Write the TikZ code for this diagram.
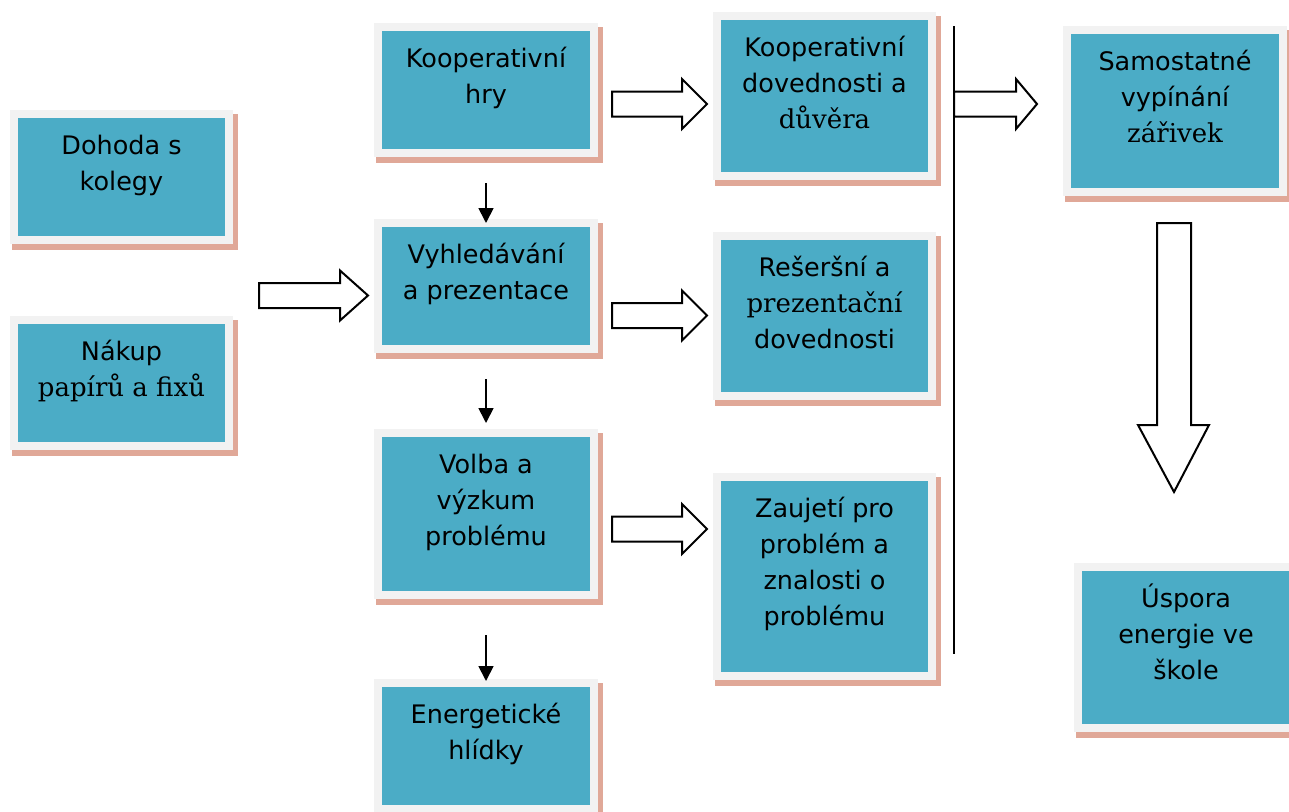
\documentclass[tikz,border=0pt]{standalone}
\usepackage{fontspec}
\setmainfont{DejaVu Sans}
\newfontfamily\serifp{DejaVu Serif}
\usetikzlibrary{arrows.meta,calc}
\definecolor{tealfill}{HTML}{4BACC6}
\definecolor{grayrim}{HTML}{F2F2F2}
\definecolor{shadowc}{HTML}{E0A898}
\tikzset{
 boxst/.style={draw=grayrim, line width=8pt, fill=tealfill, inner sep=0pt, rectangle},
 txtst/.style={inner sep=0pt, anchor=base, font=\fontsize{25.5}{36}\selectfont, text=black},
 blk/.style={line width=1.8pt, -{Triangle[length=15pt,width=15pt]}},
 hollow/.style={draw=black, fill=white, line width=2pt, line join=miter},
 sepline/.style={line width=2pt},
}
\newcommand\pbox[6]{%
 \fill[shadowc] (#2+2,#3+4) rectangle (#4+5,#5+6);
 \node[boxst, minimum width={#4-#2-8}, minimum height={#5-#3-8}] (#1) at ({(#2+#4)/2},{(#3+#5)/2}) {};
 \node[txtst] (#1t) at ({(#2+#4)/2},{#3+44}) {\begin{tabular}[t]{@{}c@{}}#6\end{tabular}};
}
\newcommand\harrow[4]{%
 \draw[hollow] (#1,#4-12.5) -- (#2,#4-12.5) -- (#2,#4-25) -- (#3,#4) -- (#2,#4+25) -- (#2,#4+12.5) -- (#1,#4+12.5) -- cycle;
}
\begin{document}
\begin{tikzpicture}[x=1pt,y=-1pt]
\useasboundingbox (0,0) rectangle (1289,811);
\clip (0,0) rectangle (1289,811);
\fill[white] (0,0) rectangle (1289,811);

\pbox{dohoda}{10}{110}{233}{244}{Dohoda s\\kolegy}
\pbox{nakup}{10}{316}{233}{450}{Nákup\\{\serifp\fontsize{26}{36}\selectfont papírů a fixů}}
\pbox{kh}{374}{23}{598}{157}{Kooperativní\\hry}
\pbox{vy}{374}{219}{598}{353}{Vyhledávání\\a prezentace}
\pbox{vo}{374}{429}{598}{599}{Volba a\\výzkum\\problému}
\pbox{en}{374}{679}{598}{813}{Energetické\\hlídky}
\pbox{kd}{713}{12}{936}{180}{Kooperativní\\dovednosti a\\{\serifp\fontsize{26}{36}\selectfont důvěra}}
\pbox{re}{713}{232}{936}{400}{Rešeršní a\\{\serifp\fontsize{26}{36}\selectfont prezentační}\\dovednosti}
\pbox{za}{713}{473}{936}{680}{Zaujetí pro\\problém a\\znalosti o\\problému}
\pbox{sa}{1063}{26}{1287}{196}{Samostatné\\vypínání\\{\serifp\fontsize{26}{36}\selectfont zářivek}}
\pbox{us}{1074}{563}{1298}{732}{Úspora\\energie ve\\škole}

% thin black arrows
\draw[blk] ([yshift=-26pt]kh.south) -- ([yshift=-4pt]vy.north);
\draw[blk] ([yshift=-26pt]vy.south) -- ([yshift=6pt]vo.north);
\draw[blk] ([yshift=-36pt]vo.south) -- ([yshift=-2pt]en.north);

% separator line
\coordinate (ltop) at (954,26);
\coordinate (lbot) at (954,654);
\draw[sepline] (ltop) -- (lbot);

% hollow block arrows
\harrow{259}{340}{368}{295.5}
\harrow{612}{682}{707}{104}
\harrow{612}{682}{707}{315.5}
\harrow{612}{682}{707}{529}
\harrow{954}{1016}{1037}{104}
\draw[hollow] (1157,223) -- (1191,223) -- (1191,425) -- (1209,425) -- (1174,492) -- (1138,425) -- (1157,425) -- cycle;
\end{tikzpicture}
\end{document}
